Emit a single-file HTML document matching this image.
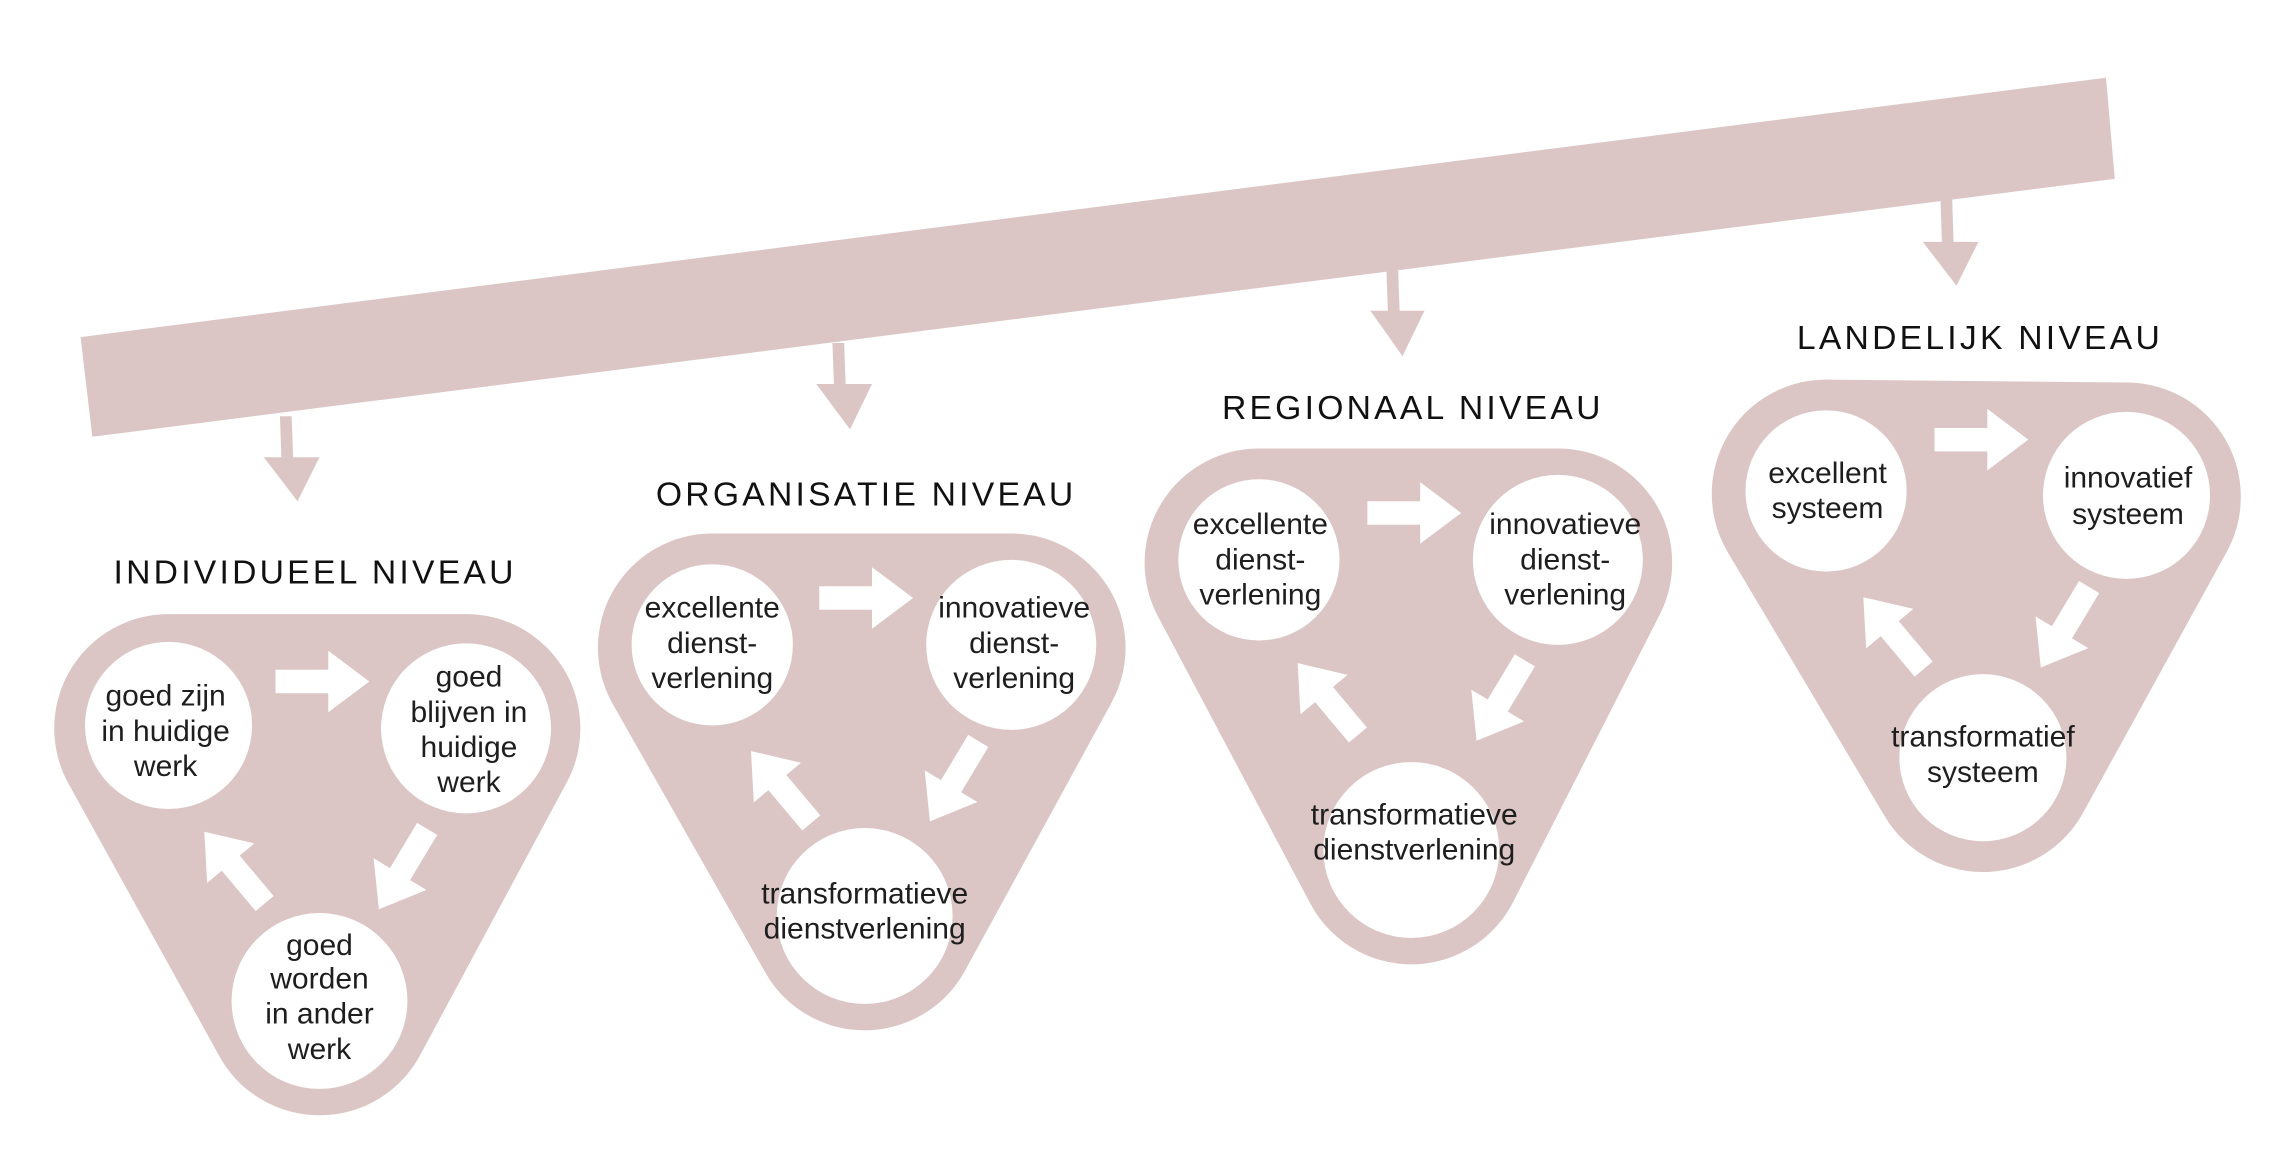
<!DOCTYPE html>
<html><head><meta charset="utf-8"><style>
html,body{margin:0;padding:0;background:#fff;}
svg{display:block;}
text{font-family:"Liberation Sans",sans-serif;fill:#1e1e1e;}
.t{font-size:20.5px;text-anchor:middle;dominant-baseline:central;}
.h{font-size:23px;text-anchor:middle;letter-spacing:2.2px;fill:#111;}
</style></head><body>
<svg width="2276" height="1176" viewBox="0 0 1553 802.4" xmlns="http://www.w3.org/2000/svg">
<defs>
<path id="ar" d="M-32,-8 H4 V-21 L32,0 L4,21 V8 H-32 Z" fill="#fff"/>
</defs>
<g fill="#dcc6c5">
<polygon points="55,230 1437,53 1443,122 63,298"/>
<polygon points="191,284 199,284 200,312 218,312 203,342 180,312 192,312"/>
<polygon points="568,234 576,234 577,262 595,262 580,293 557,262 569,262"/>
<polygon points="946,184 954,184 955,212 972,212 957,243 935,212 947,212"/>
<polygon points="1324,134 1332,134 1333,165 1350,165 1335,195 1312,165 1325,165"/>
</g>
<g fill="#dcc6c5" stroke="#dcc6c5" stroke-width="156" stroke-linejoin="round">
<polygon points="115,497 318,497 218,683"/>
<polygon points="486,442 690,442 590,625"/>
<polygon points="859,384 1063,384 963,580"/>
<polygon points="1246,337 1451,339 1353,517"/>
</g>
<g fill="#fff">
<circle cx="115" cy="495" r="57"/><circle cx="318" cy="497" r="58"/><circle cx="218" cy="683" r="60"/>
<circle cx="486" cy="440" r="55"/><circle cx="690" cy="440" r="58"/><circle cx="590" cy="625" r="60"/>
<circle cx="859" cy="382" r="55"/><circle cx="1063" cy="382" r="58"/><circle cx="963" cy="580" r="60"/>
<circle cx="1246" cy="335" r="55"/><circle cx="1451" cy="338" r="57"/><circle cx="1353" cy="517" r="57"/>
</g>
<use href="#ar" transform="translate(220,465)"/>
<use href="#ar" transform="translate(275,593) rotate(121)"/>
<use href="#ar" transform="translate(160,592) rotate(230)"/>
<use href="#ar" transform="translate(591,408)"/>
<use href="#ar" transform="translate(651,533) rotate(121)"/>
<use href="#ar" transform="translate(533,537) rotate(230)"/>
<use href="#ar" transform="translate(965,350)"/>
<use href="#ar" transform="translate(1024,478) rotate(121)"/>
<use href="#ar" transform="translate(906,477) rotate(230)"/>
<use href="#ar" transform="translate(1352,300)"/>
<use href="#ar" transform="translate(1409,428) rotate(121)"/>
<use href="#ar" transform="translate(1292,432) rotate(230)"/>

<text class="h" x="215" y="398">INDIVIDUEEL NIVEAU</text>
<text class="h" x="591" y="345">ORGANISATIE NIVEAU</text>
<text class="h" x="964" y="286">REGIONAAL NIVEAU</text>
<text class="h" x="1351" y="238">LANDELIJK NIVEAU</text>

<text class="t" x="113" y="475">goed zijn</text><text class="t" x="113" y="499">in huidige</text><text class="t" x="113" y="523">werk</text>
<text class="t" x="320" y="462">goed</text><text class="t" x="320" y="486">blijven in</text><text class="t" x="320" y="510">huidige</text><text class="t" x="320" y="534">werk</text>
<text class="t" x="218" y="645">goed</text><text class="t" x="218" y="668">worden</text><text class="t" x="218" y="692">in ander</text><text class="t" x="218" y="716">werk</text>

<text class="t" x="486" y="415">excellente</text><text class="t" x="486" y="439">dienst-</text><text class="t" x="486" y="463">verlening</text>
<text class="t" x="692" y="415">innovatieve</text><text class="t" x="692" y="439">dienst-</text><text class="t" x="692" y="463">verlening</text>
<text class="t" x="590" y="610">transformatieve</text><text class="t" x="590" y="634">dienstverlening</text>

<text class="t" x="860" y="358">excellente</text><text class="t" x="860" y="382">dienst-</text><text class="t" x="860" y="406">verlening</text>
<text class="t" x="1068" y="358">innovatieve</text><text class="t" x="1068" y="382">dienst-</text><text class="t" x="1068" y="406">verlening</text>
<text class="t" x="965" y="556">transformatieve</text><text class="t" x="965" y="580">dienstverlening</text>

<text class="t" x="1247" y="323">excellent</text><text class="t" x="1247" y="347">systeem</text>
<text class="t" x="1452" y="326">innovatief</text><text class="t" x="1452" y="351">systeem</text>
<text class="t" x="1353" y="503">transformatief</text><text class="t" x="1353" y="527">systeem</text>
</svg>
</body></html>
